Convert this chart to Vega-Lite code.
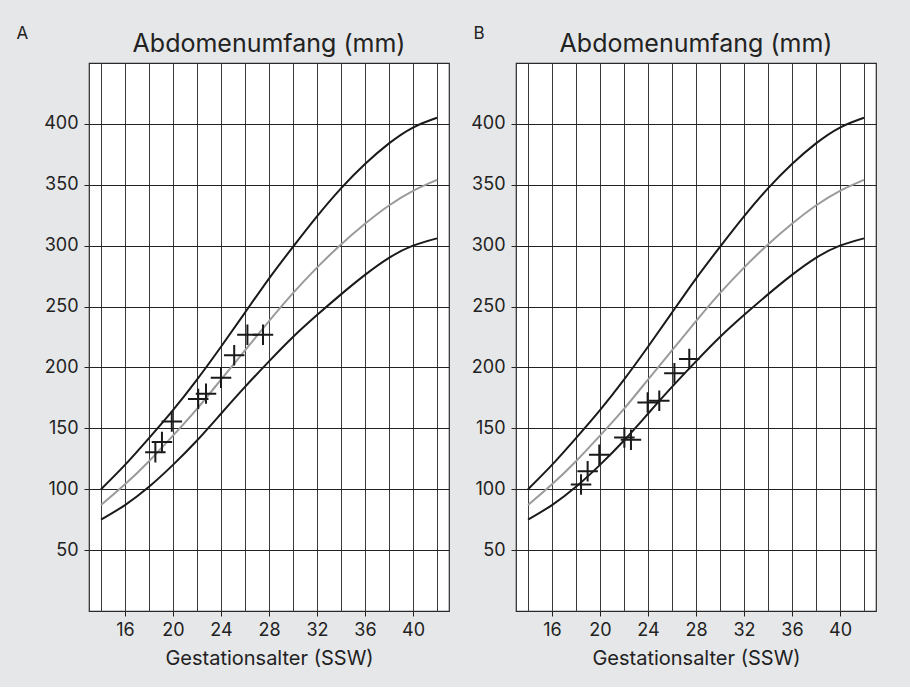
{
  "$schema": "https://vega.github.io/schema/vega-lite/v6.json",
  "background": "#e6e7e9",
  "padding": {"left": 15, "top": 23, "right": 35, "bottom": 18},
  "spacing": 20,
  "datasets": {
    "curves": [
      {"week": 14, "curve": "upper", "mm": 100}, {"week": 16, "curve": "upper", "mm": 120}, {"week": 18, "curve": "upper", "mm": 142}, {"week": 20, "curve": "upper", "mm": 165}, {"week": 22, "curve": "upper", "mm": 190}, {"week": 24, "curve": "upper", "mm": 217}, {"week": 26, "curve": "upper", "mm": 245}, {"week": 28, "curve": "upper", "mm": 273}, {"week": 30, "curve": "upper", "mm": 299}, {"week": 32, "curve": "upper", "mm": 324}, {"week": 34, "curve": "upper", "mm": 347}, {"week": 36, "curve": "upper", "mm": 367}, {"week": 38, "curve": "upper", "mm": 384}, {"week": 40, "curve": "upper", "mm": 397}, {"week": 42, "curve": "upper", "mm": 405},
      {"week": 14, "curve": "median", "mm": 87}, {"week": 16, "curve": "median", "mm": 104}, {"week": 18, "curve": "median", "mm": 123}, {"week": 20, "curve": "median", "mm": 144}, {"week": 22, "curve": "median", "mm": 166}, {"week": 24, "curve": "median", "mm": 190}, {"week": 26, "curve": "median", "mm": 214}, {"week": 28, "curve": "median", "mm": 238}, {"week": 30, "curve": "median", "mm": 261}, {"week": 32, "curve": "median", "mm": 282}, {"week": 34, "curve": "median", "mm": 301}, {"week": 36, "curve": "median", "mm": 318}, {"week": 38, "curve": "median", "mm": 333}, {"week": 40, "curve": "median", "mm": 345}, {"week": 42, "curve": "median", "mm": 354},
      {"week": 14, "curve": "lower", "mm": 75}, {"week": 16, "curve": "lower", "mm": 87}, {"week": 18, "curve": "lower", "mm": 102}, {"week": 20, "curve": "lower", "mm": 120}, {"week": 22, "curve": "lower", "mm": 140}, {"week": 24, "curve": "lower", "mm": 162}, {"week": 26, "curve": "lower", "mm": 184}, {"week": 28, "curve": "lower", "mm": 205}, {"week": 30, "curve": "lower", "mm": 225}, {"week": 32, "curve": "lower", "mm": 243}, {"week": 34, "curve": "lower", "mm": 260}, {"week": 36, "curve": "lower", "mm": 276}, {"week": 38, "curve": "lower", "mm": 290}, {"week": 40, "curve": "lower", "mm": 300}, {"week": 42, "curve": "lower", "mm": 306}
    ],
    "markersA": [
      {"week": 18.53, "mm": 130.3}, {"week": 19.08, "mm": 138.8}, {"week": 19.9, "mm": 155.7}, {"week": 22.1, "mm": 174}, {"week": 22.75, "mm": 178.5}, {"week": 24.0, "mm": 191.5}, {"week": 25.1, "mm": 210}, {"week": 26.2, "mm": 226.8}, {"week": 27.5, "mm": 226.8}
    ],
    "markersB": [
      {"week": 18.42, "mm": 103.8}, {"week": 18.97, "mm": 114.7}, {"week": 19.94, "mm": 128.4}, {"week": 22.03, "mm": 142.5}, {"week": 22.58, "mm": 140.7}, {"week": 23.97, "mm": 171.3}, {"week": 24.94, "mm": 172.7}, {"week": 26.2, "mm": 195.3}, {"week": 27.44, "mm": 207}
    ]
  },
  "hconcat": [
    {
      "width": 360,
      "height": 548,
      "title": {"text": "Abdomenumfang (mm)"},
      "layer": [
        {
          "data": {"name": "curves"},
          "mark": {"type": "line", "interpolate": "natural", "strokeWidth": 2},
          "encoding": {
            "x": {"field": "week", "type": "quantitative", "scale": {"domain": [13, 43], "nice": false, "zero": false},
              "axis": {"title": "Gestationsalter (SSW)", "tickCount": 30, "values": [14, 16, 18, 20, 22, 24, 26, 28, 30, 32, 34, 36, 38, 40, 42],
                "labelExpr": "datum.value % 4 === 0 ? datum.label : ''",
                "tickColor": {"condition": {"test": "datum.value % 4 === 0", "value": "#222"}, "value": "transparent"}}},
            "y": {"field": "mm", "type": "quantitative", "scale": {"domain": [0, 450], "nice": false},
              "axis": {"title": "A", "titleX": -73, "tickCount": 20, "values": [50, 100, 150, 200, 250, 300, 350, 400]}},
            "color": {"field": "curve", "type": "nominal", "scale": {"domain": ["upper", "median", "lower"], "range": ["#1a1a1a", "#9b9b9b", "#1a1a1a"]}, "legend": null}
          }
        },
        {
          "data": {"name": "markersA"},
          "mark": {"type": "point", "shape": "M-1,0H1M0,-1V1", "filled": false, "stroke": "#1a1a1a", "strokeWidth": 2, "size": 420, "opacity": 1},
          "encoding": {
            "x": {"field": "week", "type": "quantitative"},
            "y": {"field": "mm", "type": "quantitative"}
          }
        }
      ]
    },
    {
      "width": 360,
      "height": 548,
      "title": {"text": "Abdomenumfang (mm)"},
      "layer": [
        {
          "data": {"name": "curves"},
          "mark": {"type": "line", "interpolate": "natural", "strokeWidth": 2},
          "encoding": {
            "x": {"field": "week", "type": "quantitative", "scale": {"domain": [13, 43], "nice": false, "zero": false},
              "axis": {"title": "Gestationsalter (SSW)", "tickCount": 30, "values": [14, 16, 18, 20, 22, 24, 26, 28, 30, 32, 34, 36, 38, 40, 42],
                "labelExpr": "datum.value % 4 === 0 ? datum.label : ''",
                "tickColor": {"condition": {"test": "datum.value % 4 === 0", "value": "#222"}, "value": "transparent"}}},
            "y": {"field": "mm", "type": "quantitative", "scale": {"domain": [0, 450], "nice": false},
              "axis": {"title": "B", "titleX": -43, "tickCount": 20, "values": [50, 100, 150, 200, 250, 300, 350, 400]}},
            "color": {"field": "curve", "type": "nominal", "scale": {"domain": ["upper", "median", "lower"], "range": ["#1a1a1a", "#9b9b9b", "#1a1a1a"]}, "legend": null}
          }
        },
        {
          "data": {"name": "markersB"},
          "mark": {"type": "point", "shape": "M-1,0H1M0,-1V1", "filled": false, "stroke": "#1a1a1a", "strokeWidth": 2, "size": 420, "opacity": 1},
          "encoding": {
            "x": {"field": "week", "type": "quantitative"},
            "y": {"field": "mm", "type": "quantitative"}
          }
        }
      ]
    }
  ],
  "config": {
    "font": "Inter",
    "view": {"fill": "white", "stroke": "#2a2a2a", "strokeWidth": 1.2},
    "title": {"font": "Inter", "fontSize": 25, "fontWeight": "normal", "color": "#222", "anchor": "middle", "frame": "group", "baseline": "alphabetic", "offset": -33},
    "axisX": {
      "grid": true, "gridColor": "#3a3a3a", "gridOpacity": 1, "gridWidth": 1,
      "domain": false,
      "tickSize": 5, "tickWidth": 1,
      "labelFont": "Inter", "labelFontSize": 18, "labelColor": "#222", "labelPadding": 5, "labelFlush": false, "labelOverlap": false,
      "titleFont": "Inter", "titleFontSize": 20, "titleFontWeight": "normal", "titleColor": "#222", "titlePadding": 9
    },
    "axisY": {
      "grid": true, "gridColor": "#222", "gridOpacity": 1, "gridWidth": 1,
      "domain": false,
      "tickSize": 5, "tickWidth": 1, "tickColor": "#222",
      "labelFont": "Inter", "labelFontSize": 18, "labelColor": "#222", "labelPadding": 6, "labelFlush": false, "labelOverlap": false,
      "titleFont": "Inter", "titleFontSize": 17, "titleFontWeight": "normal", "titleColor": "#222",
      "titleAngle": 0, "titleAlign": "left", "titleBaseline": "alphabetic", "titleY": -25
    }
  }
}
